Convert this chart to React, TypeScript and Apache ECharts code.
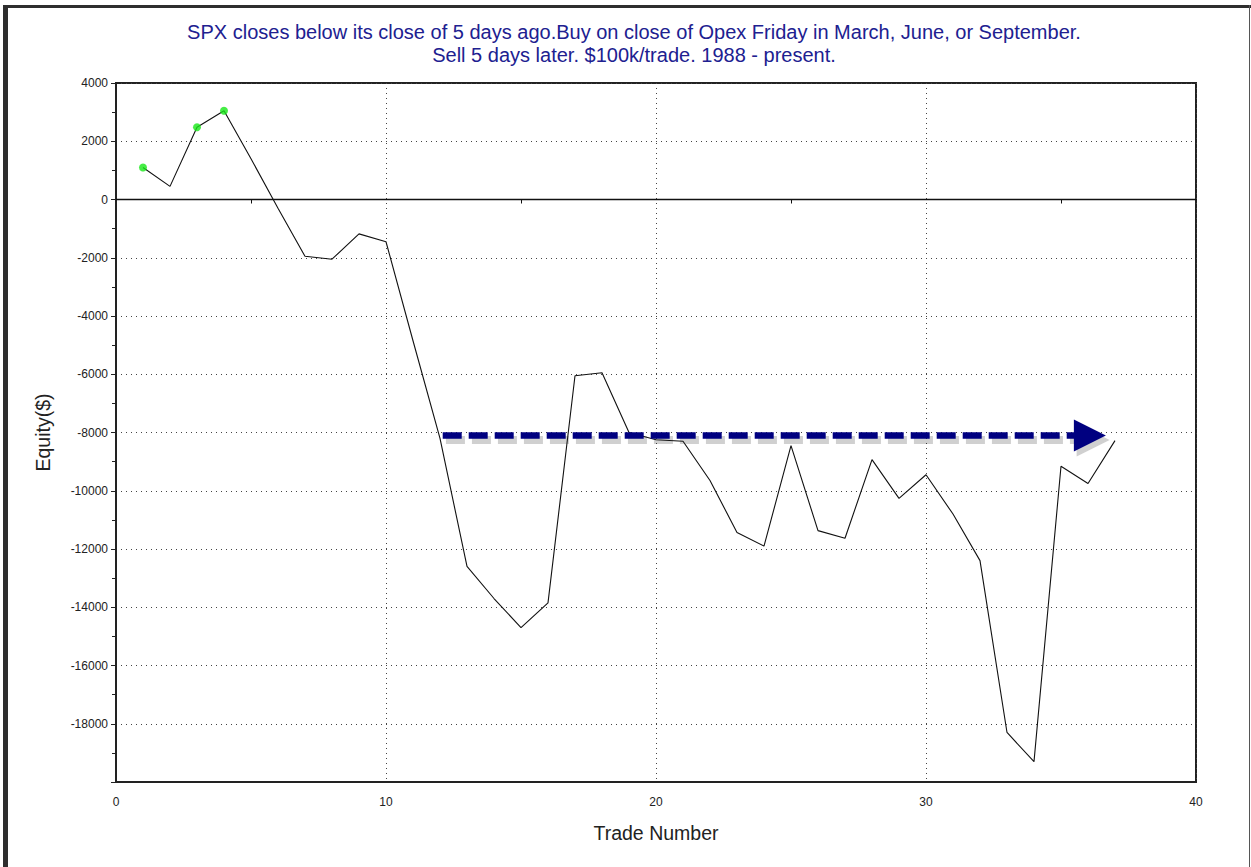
import React, { useEffect, useRef } from "react";
import * as echarts from "echarts";

const TITLE_LINES = [
  "SPX closes below its close of 5 days ago.Buy on close of Opex Friday in March, June, or September.",
  "Sell 5 days later. $100k/trade. 1988 - present.",
];
const X_NAME = "Trade Number";
const Y_NAME = "Equity($)";

const trades = Array.from({ length: 37 }, (_, i) => i + 1);
const equity = [
  1100, 450, 2480, 3050, 1400, -300, -1950, -2050, -1180, -1450,
  -4850, -8200, -12600, -13700, -14700, -13850, -6050, -5950, -8000, -8250,
  -8300, -9650, -11430, -11900, -8450, -11370, -11630, -8930, -10260, -9450,
  -10800, -12400, -18300, -19300, -9160, -9750, -8280,
];
const newHighTrades = [1, 3, 4];

const X_MIN = 0;
const X_MAX = 40;
const X_STEP = 10;
const Y_MIN = -20000;
const Y_MAX = 4000;
const Y_STEP = 2000;

// arrow annotation (trade number, equity)
const arrowStart = [12.1, -8100];
const arrowEnd = [36.07, -8100];
// its drop shadow, a few pixels right and below
const shadowStart = [12.22, -8260];
const shadowEnd = [36.19, -8260];

const FONT = "'Liberation Sans', Arial, Helvetica, sans-serif";

export default function App() {
  const ref = useRef<HTMLDivElement>(null);

  useEffect(() => {
    if (!ref.current) return;
    const chart = echarts.init(ref.current, null, { renderer: "svg" });

    const lineData = trades.map((t, i) => [t, equity[i]]);
    const highData = newHighTrades.map((t) => [t, equity[t - 1]]);

    const dotted = { color: "#444", width: 1, type: [1, 4] as any };
    const shadowColor = "rgba(40,40,40,0.22)";

    chart.setOption({
      animation: false,
      backgroundColor: "#ffffff",
      textStyle: { fontFamily: FONT },
      graphic: [
        { type: "rect", shape: { x: 3, y: 5, width: 1248, height: 3 }, style: { fill: "#2e2e2e" }, silent: true },
        { type: "rect", shape: { x: 3, y: 5, width: 5, height: 862 }, style: { fill: "#2e2e2e" }, silent: true },
        { type: "rect", shape: { x: 1249, y: 5, width: 1, height: 862 }, style: { fill: "#555" }, silent: true },
        {
          type: "text",
          x: 634,
          y: 20,
          silent: true,
          style: {
            text: TITLE_LINES.join("\n"),
            textAlign: "center",
            textVerticalAlign: "top",
            fill: "#202090",
            font: `20px ${FONT}`,
            lineHeight: 23,
          },
        },
      ],
      grid: {
        left: 116,
        top: 83,
        right: 55,
        bottom: 85,
        show: true,
        borderColor: "#222",
        borderWidth: 2,
        backgroundColor: "transparent",
        containLabel: false,
      },
      xAxis: [
        {
          type: "value",
          position: "bottom",
          min: X_MIN,
          max: X_MAX,
          interval: X_STEP,
          axisLine: { show: true, onZero: false, lineStyle: { color: "#222", width: 1 } },
          axisTick: { show: false },
          axisLabel: { fontSize: 12, color: "#222", margin: 14, fontFamily: FONT },
          splitLine: { show: true, lineStyle: dotted },
          name: X_NAME,
          nameLocation: "middle",
          nameGap: 41,
          nameTextStyle: { fontSize: 19.5, color: "#222", fontFamily: FONT },
        },
        {
          type: "value",
          position: "bottom",
          min: X_MIN,
          max: X_MAX,
          interval: X_STEP,
          axisLine: { show: true, onZero: true, lineStyle: { color: "#111", width: 1.3 } },
          axisTick: { show: false },
          minorTick: { show: true, splitNumber: 2, length: 4, lineStyle: { color: "#111", width: 1 } },
          axisLabel: { show: false },
          splitLine: { show: false },
        },
      ],
      yAxis: [
        {
          type: "value",
          min: Y_MIN,
          max: Y_MAX,
          interval: Y_STEP,
          axisLine: { show: true, onZero: false, lineStyle: { color: "#222", width: 1 } },
          axisTick: { show: true, length: 5, lineStyle: { color: "#222" } },
          minorTick: { show: true, splitNumber: 2, length: 4, lineStyle: { color: "#222" } },
          axisLabel: {
            fontSize: 12,
            color: "#222",
            margin: 8,
            fontFamily: FONT,
            formatter: (v: number) => (v === Y_MIN ? "" : String(v)),
          },
          splitLine: { show: true, lineStyle: dotted },
          name: Y_NAME,
          nameLocation: "middle",
          nameGap: 63,
          nameTextStyle: { fontSize: 19.5, color: "#222", fontFamily: FONT },
        },
      ],
      series: [
        {
          type: "line",
          data: lineData,
          xAxisIndex: 0,
          yAxisIndex: 0,
          showSymbol: false,
          symbol: "none",
          lineStyle: { color: "#111", width: 1.1 },
          silent: true,
          z: 3,
          markLine: {
            silent: true,
            animation: false,
            label: { show: false },
            emphasis: { disabled: true },
            symbol: ["none", "triangle"],
            symbolSize: 32,
            data: [
              [
                {
                  coord: shadowStart,
                  symbol: "none",
                  lineStyle: { color: shadowColor, width: 8, type: [19, 7] as any },
                  itemStyle: { color: shadowColor },
                },
                {
                  coord: shadowEnd,
                  symbol: "triangle",
                  symbolSize: 33,
                  itemStyle: { color: shadowColor },
                },
              ],
              [
                {
                  coord: arrowStart,
                  symbol: "none",
                  lineStyle: { color: "#000080", width: 6.5, type: [19, 7] as any },
                  itemStyle: { color: "#000080" },
                },
                {
                  coord: arrowEnd,
                  symbol: "triangle",
                  symbolSize: 32,
                  itemStyle: { color: "#000080" },
                },
              ],
            ],
            lineStyle: {
              color: "#000080",
              width: 6,
              type: [19, 7] as any,
              opacity: 1,
            },
            itemStyle: { color: "#000080" },
          },
        },
        {
          type: "scatter",
          data: highData,
          xAxisIndex: 0,
          yAxisIndex: 0,
          symbol: "circle",
          symbolSize: 8,
          itemStyle: { color: "#18e818" },
          silent: true,
          z: 4,
        },
      ],
    });

    return () => chart.dispose();
  }, []);

  return (
    <div
      ref={ref}
      style={{ position: "fixed", left: 0, top: 0, width: 1251, height: 867, background: "#fff" }}
    />
  );
}
